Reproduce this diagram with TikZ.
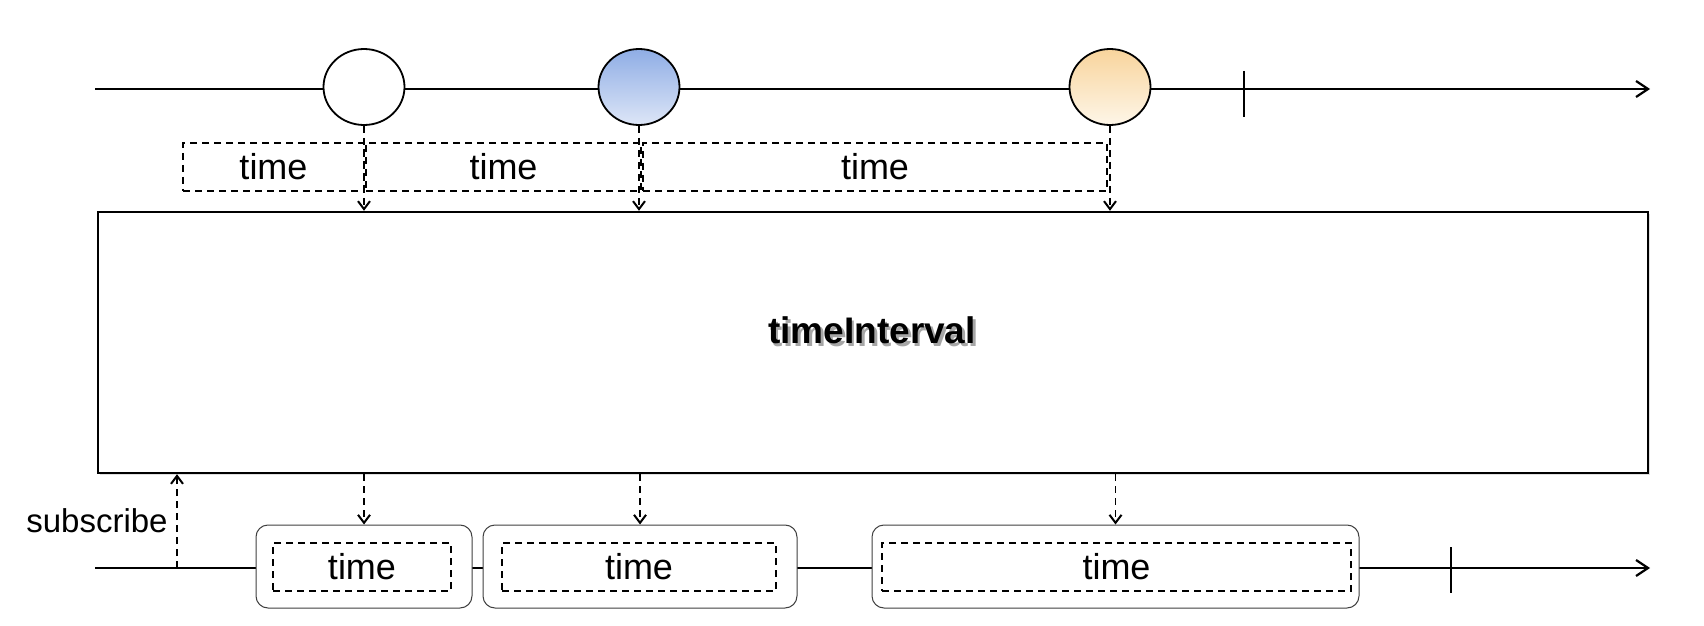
\documentclass[tikz,border=0pt]{standalone}
\usepackage{fontspec}
\setmainfont{Liberation Sans}
\usetikzlibrary{arrows.meta,shapes.geometric,shadows}
\definecolor{blueT}{HTML}{8FADE5}
\definecolor{blueB}{HTML}{DDE6F7}
\definecolor{orT}{HTML}{F8D49C}
\definecolor{orB}{HTML}{FEF6E8}
\newcommand{\shadowtxt}[1]{\leavevmode\rlap{\kern1.3pt\raisebox{-1.6pt}{\textcolor{black!35}{#1}}}#1}
\begin{document}
\begin{tikzpicture}[x=0.5pt,y=-0.5pt,
  axis/.style={line width=1.1pt,-{Straight Barb[length=6pt,width=8pt,line width=1.1pt]}},
  ev/.style={ellipse,draw,line width=0.9pt,minimum width=40.5pt,minimum height=38pt,inner sep=0pt},
  dbox/.style={draw,dash pattern=on 3.5pt off 2.5pt,line width=0.75pt,inner sep=0pt,font=\fontsize{18}{20}\selectfont},
  darrow/.style={dash pattern=on 3.5pt off 2.5pt,line width=0.75pt,-{Straight Barb[length=4pt,width=6pt,line width=1pt]}},
  rbox/.style={draw=black!75,line width=0.5pt,rounded corners=6pt,fill=white,inner sep=0pt},
  tickmark/.style={line width=0.7pt},
  mainbox/.style={draw,line width=1.2pt,fill=white,inner sep=0pt,drop shadow={shadow xshift=1.2pt,shadow yshift=-1.2pt,opacity=0.25}}
]
\useasboundingbox (0,0) rectangle (1704,626);

% top timeline
\coordinate (t0) at (95,89);
\coordinate (t1) at (1650,89);
\draw[axis] (t0) -- (t1);
\coordinate (k1a) at (1244,71);
\coordinate (k1b) at (1244,117);
\draw[tickmark] (k1a) -- (k1b);
\node[ev,fill=white] (c1) at (364,87) {};
\node[ev,top color=blueT,bottom color=blueB] (c2) at (639,87) {};
\node[ev,top color=orT,bottom color=orB] (c3) at (1110,87) {};

% top dashed time boxes
\node[dbox,minimum width=90.5pt,minimum height=24pt] (tb1) at (273.5,167) {time};
\node[dbox,minimum width=137.5pt,minimum height=24pt] (tb2) at (503.5,167) {time};
\node[dbox,minimum width=232pt,minimum height=24pt] (tb3) at (875,167) {time};

% operator box
\node[mainbox,minimum width=775pt,minimum height=130.5pt] (main) at (873,342.5) {};
\node[anchor=base,font=\fontsize{18.5}{20}\selectfont\bfseries] (lbl) at (872,343) {\shadowtxt{timeInterval}};

\draw[darrow] (c1.south) -- (c1.south |- main.north);
\draw[darrow] (c2.south) -- (c2.south |- main.north);
\draw[darrow] (c3.south) -- (c3.south |- main.north);

% bottom timeline
\coordinate (b0) at (95,568);
\coordinate (b1) at (1650,568);
\draw[axis] (b0) -- (b1);
\coordinate (k2a) at (1451,547);
\coordinate (k2b) at (1451,593);
\draw[tickmark] (k2a) -- (k2b);

% subscribe
\coordinate (s0) at (177,568);
\draw[darrow] (s0) -- (s0 |- main.south);
\node[anchor=east,font=\fontsize{16.5}{18}\selectfont,inner sep=0pt] (sub) at (168,521) {subscribe};

% output boxes
\node[rbox,minimum width=108pt,minimum height=41.5pt] (oA) at (364,566.5) {};
\node[dbox,minimum width=89pt,minimum height=24pt] (iA) at (362,567) {time};
\node[rbox,minimum width=157pt,minimum height=41.5pt] (oB) at (640,566.5) {};
\node[dbox,minimum width=137pt,minimum height=24pt] (iB) at (639,567) {time};
\node[rbox,minimum width=243.5pt,minimum height=41.5pt] (oC) at (1115.5,566.5) {};
\node[dbox,minimum width=234.5pt,minimum height=24pt] (iC) at (1116.5,567) {time};

\draw[darrow] (main.south -| oA.north) -- (oA.north);
\draw[darrow] (main.south -| oB.north) -- (oB.north);
\draw[darrow] (main.south -| oC.north) -- (oC.north);
\end{tikzpicture}
\end{document}
